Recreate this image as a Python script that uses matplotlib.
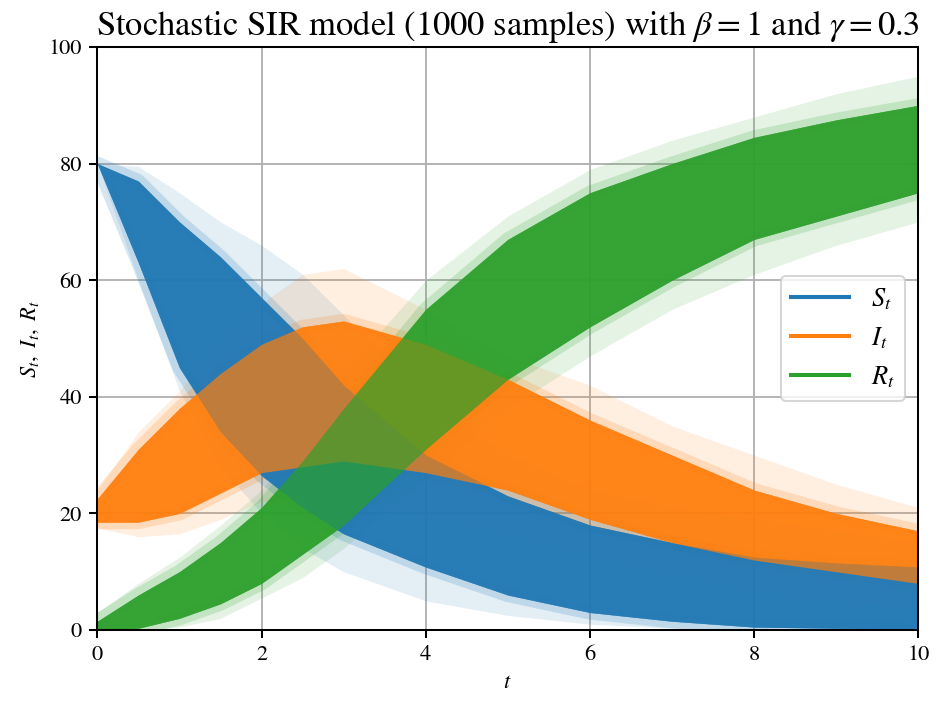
import numpy as np
import matplotlib.pyplot as plt

plt.rcParams['font.family'] = 'STIXGeneral'
plt.rcParams['mathtext.fontset'] = 'stix'

# time grid and envelopes of the 1000 sample paths
# (faint outer edge, dense core low/high, faint outer edge)
t = [0, 0.5, 1, 1.5, 2, 2.5, 3, 4, 5, 6, 7, 8, 9, 10]

s_lo      = [80, 60, 41, 28, 20, 14, 10, 5, 2.5, 1, 0.3, 0, 0, 0]
s_core_lo = [80, 63, 45, 34, 26.5, 21, 16.5, 10.8, 6, 3, 1.5, 0.5, 0.3, 0.2]
s_core_hi = [80, 77, 70, 64, 57, 50, 42, 30, 23, 18, 15, 12.5, 11.5, 10.8]
s_hi      = [80, 79.5, 75, 70, 66, 61, 54, 40, 30, 24, 21, 19, 17, 15]

i_lo      = [17.5, 16, 16.5, 19, 22, 22, 22, 20, 17, 13, 10, 7, 5, 4]
i_core_lo = [18.5, 18.5, 20, 23.5, 27, 28, 29, 27, 24, 19, 15, 12, 10, 8]
i_core_hi = [22.5, 31, 38, 44, 49, 52, 53, 49, 43, 36, 30, 24, 20, 17]
i_hi      = [24, 34, 41, 49, 56, 61, 62, 55, 47, 42, 35, 30, 25, 21]

r_lo      = [0, 0, 0.5, 2, 5.5, 9, 14, 26, 38, 47, 55, 61, 66, 70]
r_core_lo = [0, 0.3, 2, 4.5, 8, 13, 18, 31, 43, 52, 60, 67, 71, 75]
r_core_hi = [1.5, 6, 10, 15, 21, 29, 38, 55, 67, 75, 80, 84.5, 87.5, 90]
r_hi      = [3, 8, 12.5, 18, 24, 33, 44, 60, 71, 79, 84, 88, 92, 95]

bands = [
    (s_lo, s_core_lo, s_core_hi, s_hi, 'C0', r'$S_t$'),
    (i_lo, i_core_lo, i_core_hi, i_hi, 'C1', r'$I_t$'),
    (r_lo, r_core_lo, r_core_hi, r_hi, 'C2', r'$R_t$'),
]

fig, ax = plt.subplots(figsize=(6.4, 4.8), dpi=146.25)
fig.subplots_adjust(left=0.104, right=0.981, bottom=0.1026, top=0.933)

# faint spread of all samples
for lo, clo, chi, hi, c, _ in bands:
    ax.fill_between(t, lo, hi, color=c, alpha=0.12, lw=0)

# soft halo around the dense core
for lo, clo, chi, hi, c, _ in bands:
    ax.fill_between(t, clo, chi, facecolor='none', edgecolor=c,
                    alpha=0.18, lw=7)

# dense core, layered in turns so overlapping compartments blend
for _ in range(3):
    for lo, clo, chi, hi, c, _ in bands:
        ax.fill_between(t, clo, chi, color=c, alpha=0.62, lw=0)

for lo, clo, chi, hi, c, lab in bands:
    ax.plot([], [], color=c, lw=2, label=lab)

ax.set_xlim(0, 10)
ax.set_ylim(0, 100)
ax.set_xticks(np.arange(0, 11, 2))
ax.set_yticks(np.arange(0, 101, 20))
ax.grid(True, color='#b0b0b0', lw=0.9)
ax.set_axisbelow(True)
for sp in ax.spines.values():
    sp.set_linewidth(1.0)
ax.tick_params(labelsize=11, width=1.0, length=4)

ax.set_xlabel(r'$t$', fontsize=11)
ax.set_ylabel(r'$S_t,\ I_t,\ R_t$', fontsize=11)
ax.set_title(r'Stochastic SIR model (1000 samples) with $\beta = 1$ and $\gamma = 0.3$',
             fontsize=17)
ax.legend(loc='center right', fontsize=13, handlelength=2.2)

fig.savefig('out.png')
